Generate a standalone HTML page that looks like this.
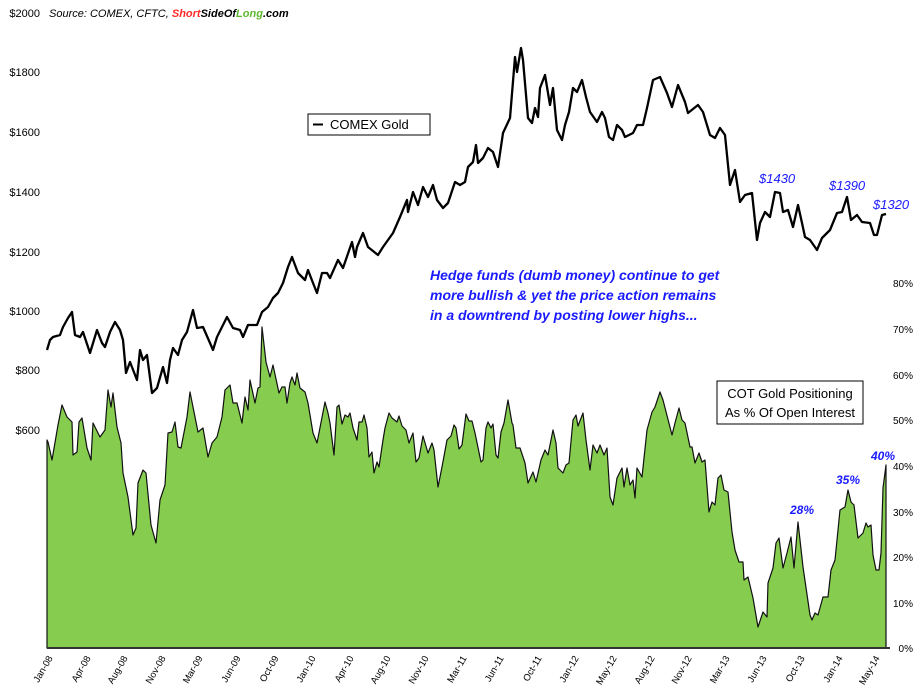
<!DOCTYPE html>
<html><head><meta charset="utf-8"><style>
html,body{margin:0;padding:0;background:#fff;}
svg{display:block;font-family:"Liberation Sans","DejaVu Sans",sans-serif;}
</style></head><body>
<svg width="924" height="692" viewBox="0 0 924 692" xmlns="http://www.w3.org/2000/svg">
<rect width="924" height="692" fill="#fff"/>
<polygon fill="#86cc4f" stroke="#111" stroke-width="1.2" stroke-linejoin="round" points="47,648 47,440 48,442 52,460 58,425 62,405 67,417 70,420 72,422 73,455 77,452 79,422 82,418 87,448 91,460 93,423 100,437 105,430 108,390 111,407 113,393 117,427 121,443 123,473 128,497 133,535 136,528 138,483 143,470 146,473 151,525 156,543 160,500 165,485 168,433 172,432 175,422 178,447 181,448 187,417 190,392 195,417 198,432 203,428 208,457 212,443 217,437 222,417 225,390 230,385 233,403 237,403 242,423 245,397 248,410 250,380 255,403 258,388 260,387 262,327 266,362 270,377 273,365 279,393 282,387 285,387 287,403 290,383 292,377 295,385 297,373 300,388 305,392 308,403 313,433 317,443 325,402 328,413 330,423 334,455 337,407 339,405 342,424 345,415 348,417 350,413 353,428 357,440 359,422 362,422 364,415 367,428 369,457 372,452 374,473 377,462 379,467 383,440 385,428 389,413 392,418 397,422 399,416 402,426 406,430 409,443 413,433 416,462 419,458 423,436 428,453 432,443 434,450 438,487 442,467 447,440 451,436 454,425 456,428 459,449 462,445 466,414 469,421 472,421 475,433 481,462 483,460 486,428 488,422 491,428 493,424 496,455 498,458 501,432 504,423 508,400 512,423 513,425 516,448 520,448 525,463 528,483 533,472 536,482 541,460 545,450 548,455 553,430 556,443 558,468 563,473 566,465 569,463 573,420 576,415 578,426 583,413 586,440 590,470 593,445 597,453 600,445 604,455 607,448 610,497 613,505 617,478 622,468 624,487 627,468 630,485 633,480 635,498 637,468 642,477 647,430 652,412 655,407 660,392 663,400 672,435 675,423 679,408 682,420 685,423 690,447 692,447 695,463 699,453 702,462 705,460 709,512 712,502 715,505 718,478 721,475 724,490 728,492 732,532 735,550 739,562 743,562 744,580 748,577 753,598 758,627 763,612 767,617 768,583 773,568 776,543 779,538 783,568 787,553 791,537 794,568 798,522 803,567 810,615 812,620 815,613 818,615 823,597 828,597 831,570 835,560 840,510 845,507 848,490 851,502 854,505 858,538 863,533 866,523 868,527 871,525 873,555 876,570 879,570 881,553 883,488 886,465 886,648"/>
<line x1="47" y1="648" x2="890" y2="648" stroke="#333" stroke-width="2"/>
<polyline fill="none" stroke="#000" stroke-width="2.3" stroke-linejoin="round" points="47,350 50,340 53,337 60,335 63,327 68,318 72,312 75,335 80,337 83,332 90,353 97,330 102,343 105,347 110,332 115,322 120,330 123,340 126,373 130,362 137,380 140,350 143,360 147,355 152,393 157,388 163,367 167,383 170,360 173,348 178,355 182,340 187,332 193,310 197,328 203,327 210,343 213,350 217,337 227,317 233,328 240,330 243,337 248,325 257,325 262,312 268,307 273,298 278,293 283,283 288,267 292,257 298,273 305,280 308,270 313,283 317,293 322,273 327,273 330,278 338,260 343,268 352,242 355,257 357,247 363,233 368,247 378,255 383,247 393,233 400,217 407,200 408,212 413,192 418,205 423,187 428,197 433,185 437,200 443,208 448,203 455,182 460,185 465,182 468,167 473,162 476,145 478,163 483,158 488,148 493,152 498,167 503,133 510,118 515,57 517,72 521,48 523,60 528,118 532,123 535,108 538,117 540,88 545,75 550,105 553,88 557,130 562,140 565,125 569,112 573,88 577,92 582,80 586,97 590,112 597,122 602,112 605,118 609,137 613,140 617,125 622,130 625,137 633,133 637,125 643,125 647,108 653,80 660,77 667,93 672,107 678,85 685,102 688,113 698,105 703,112 710,135 715,138 720,128 725,135 730,185 735,170 740,202 745,195 752,193 757,240 760,223 765,212 770,217 775,192 780,193 783,212 788,210 793,227 798,205 802,223 805,237 810,240 817,250 822,238 830,230 837,213 842,212 847,197 851,220 857,215 862,222 870,223 874,235 877,235 882,215 886,214"/>
<g font-size="11" fill="#000" text-anchor="end">
<text x="40" y="17">$2000</text><text x="40" y="76">$1800</text><text x="40" y="136">$1600</text><text x="40" y="196">$1400</text><text x="40" y="256">$1200</text><text x="40" y="315">$1000</text><text x="40" y="374">$800</text><text x="40" y="434">$600</text>
</g>
<g font-size="10" fill="#000" text-anchor="end">
<text x="913" y="287">80%</text><text x="913" y="333">70%</text><text x="913" y="379">60%</text><text x="913" y="424">50%</text><text x="913" y="470">40%</text><text x="913" y="516">30%</text><text x="913" y="561">20%</text><text x="913" y="607">10%</text><text x="913" y="652">0%</text>
</g>
<g font-size="9.5" fill="#000" text-anchor="end">
<text transform="translate(53,658) rotate(-60)">Jan-08</text>
<text transform="translate(91,658) rotate(-60)">Apr-08</text>
<text transform="translate(128,658) rotate(-60)">Aug-08</text>
<text transform="translate(166,658) rotate(-60)">Nov-08</text>
<text transform="translate(203,658) rotate(-60)">Mar-09</text>
<text transform="translate(241,658) rotate(-60)">Jun-09</text>
<text transform="translate(279,658) rotate(-60)">Oct-09</text>
<text transform="translate(316,658) rotate(-60)">Jan-10</text>
<text transform="translate(354,658) rotate(-60)">Apr-10</text>
<text transform="translate(391,658) rotate(-60)">Aug-10</text>
<text transform="translate(429,658) rotate(-60)">Nov-10</text>
<text transform="translate(467,658) rotate(-60)">Mar-11</text>
<text transform="translate(504,658) rotate(-60)">Jun-11</text>
<text transform="translate(542,658) rotate(-60)">Oct-11</text>
<text transform="translate(579,658) rotate(-60)">Jan-12</text>
<text transform="translate(617,658) rotate(-60)">May-12</text>
<text transform="translate(655,658) rotate(-60)">Aug-12</text>
<text transform="translate(692,658) rotate(-60)">Nov-12</text>
<text transform="translate(730,658) rotate(-60)">Mar-13</text>
<text transform="translate(767,658) rotate(-60)">Jun-13</text>
<text transform="translate(805,658) rotate(-60)">Oct-13</text>
<text transform="translate(843,658) rotate(-60)">Jan-14</text>
<text transform="translate(880,658) rotate(-60)">May-14</text>
</g>
<text x="49" y="17" font-size="11" font-style="italic" fill="#000">Source: COMEX, CFTC, <tspan fill="#ff2a2a" font-weight="bold">Short</tspan><tspan font-weight="bold">SideOf</tspan><tspan fill="#5cb82e" font-weight="bold">Long</tspan><tspan font-weight="bold">.com</tspan></text>
<rect x="308" y="114" width="122" height="21" fill="#fff" stroke="#000" stroke-width="1"/>
<line x1="313" y1="124.5" x2="323" y2="124.5" stroke="#000" stroke-width="2"/>
<text x="330" y="129" font-size="13" fill="#000">COMEX Gold</text>
<rect x="717" y="381" width="146" height="43" fill="#fff" stroke="#000" stroke-width="1"/>
<text x="790" y="398" font-size="13" fill="#000" text-anchor="middle">COT Gold Positioning</text>
<text x="790" y="417" font-size="13" fill="#000" text-anchor="middle">As % Of Open Interest</text>
<g font-size="14" font-style="italic" font-weight="bold" fill="#1a1aff">
<text x="430" y="280">Hedge funds (dumb money) continue to get</text>
<text x="430" y="300">more bullish &amp; yet the price action remains</text>
<text x="430" y="320">in a downtrend by posting lower highs...</text>
</g>
<g font-size="13" font-style="italic" fill="#1a1aff">
<text x="759" y="183">$1430</text>
<text x="829" y="190">$1390</text>
<text x="873" y="209">$1320</text>
</g>
<g font-size="12" font-style="italic" font-weight="bold" fill="#1a1aff">
<text x="790" y="514">28%</text>
<text x="836" y="484">35%</text>
<text x="871" y="460">40%</text>
</g>
</svg>
</body></html>
